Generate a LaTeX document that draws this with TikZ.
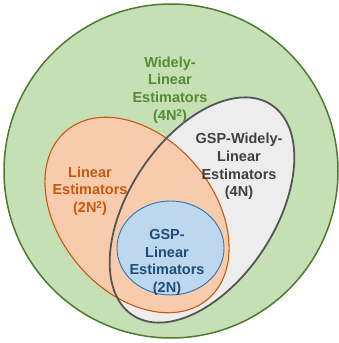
\documentclass[tikz,border=0pt]{standalone}
\usepackage{fontspec}
\setmainfont{Liberation Sans}
\definecolor{gfill}{HTML}{C5E0B4}
\definecolor{gline}{HTML}{4E7A2E}
\definecolor{gtext}{HTML}{588A36}
\definecolor{ofill}{HTML}{F8CBAD}
\definecolor{oline}{HTML}{C55A11}
\definecolor{otext}{HTML}{C55A11}
\definecolor{wfill}{HTML}{EDEDED}
\definecolor{wline}{HTML}{555555}
\definecolor{wtext}{HTML}{404040}
\definecolor{bfill}{HTML}{BDD7EE}
\definecolor{bline}{HTML}{2E75B6}
\definecolor{btext}{HTML}{1F4E79}
\newcommand{\sqsup}{\raisebox{0.5ex}{\fontsize{10}{10}\selectfont 2}}
\tikzset{
  lbl/.style={align=center, inner sep=0pt, font=\fontsize{14.5}{17.6}\selectfont\bfseries}
}
\begin{document}
\begin{tikzpicture}[x=1pt,y=1pt]
\useasboundingbox (0,0) rectangle (339,343);
% green circle
\draw[gline, line width=1.5pt, fill=gfill] (171,172) circle (167);
% fills
\fill[wfill] (202,133) [rotate around={56.6:(202,133)}] ellipse (126 and 73);
\fill[ofill] (137,128) [rotate around={-50:(137,128)}] ellipse (110 and 77);
\fill[bfill] (170.5,95) ellipse (53.5 and 47);
% strokes
\draw[oline, line width=1.1pt] (137,128) [rotate around={-50:(137,128)}] ellipse (110 and 77);
\draw[bline, line width=0.9pt] (170.5,95) ellipse (53.5 and 47);
\draw[wline, line width=1.8pt] (202,133) [rotate around={56.6:(202,133)}] ellipse (126 and 73);
% labels
\node[lbl, text=gtext] (wl) at (170,253) {Widely-\\Linear\\Estimators\\(4N\sqsup)};
\node[lbl, text=otext] (le) at (90,152) {Linear\\Estimators\\(2N\sqsup)};
\node[lbl, text=wtext] (gwl) at (239,176.5) {GSP-Widely-\\Linear\\Estimators\\(4N)};
\node[lbl, text=btext] (gl) at (167,80.5) {GSP-\\Linear\\Estimators\\(2N)};
\end{tikzpicture}
\end{document}
